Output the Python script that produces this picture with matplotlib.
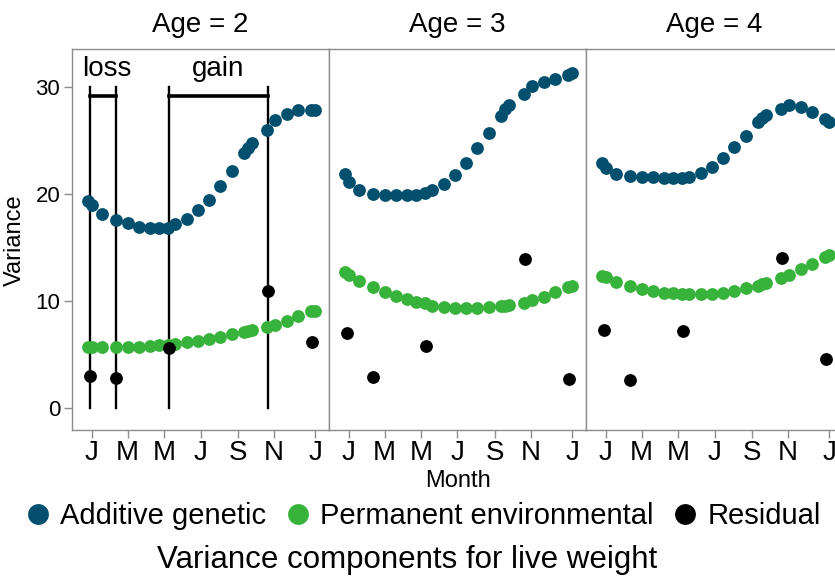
import matplotlib
matplotlib.use("Agg")
import matplotlib.pyplot as plt
from matplotlib.lines import Line2D

plt.rcParams['font.family'] = ['Liberation Sans', 'DejaVu Sans']

# sampling days (J tick = day 0), shared by all three ages
days = [-6, 1, 18, 40, 60, 79, 97, 112, 128, 140, 159, 178,
        197, 215, 235, 254, 261, 269, 294, 306, 326, 345, 367, 373]
res_days = [-3, 40, 130, 295, 368]

ages = ["Age = 2", "Age = 3", "Age = 4"]

additive = [
    [19.4, 19.0, 18.2, 17.6, 17.3, 17.0, 16.9, 16.9, 16.9, 17.2, 17.7, 18.5,
     19.5, 20.8, 22.2, 23.9, 24.3, 24.8, 26.0, 27.0, 27.5, 27.9, 27.9, 27.9],
    [21.9, 21.2, 20.4, 20.0, 19.9, 19.9, 19.9, 19.95, 20.1, 20.4, 20.95, 21.8,
     22.9, 24.3, 25.75, 27.3, 27.95, 28.4, 29.4, 30.15, 30.55, 30.8, 31.2, 31.4],
    [22.9, 22.5, 21.9, 21.76, 21.67, 21.67, 21.57, 21.5, 21.57, 21.67, 21.98, 22.6,
     23.44, 24.4, 25.47, 26.8, 27.18, 27.44, 28.0, 28.37, 28.21, 27.69, 27.03, 26.81],
]
permanent = [
    [5.77, 5.77, 5.77, 5.71, 5.77, 5.77, 5.83, 5.92, 5.92, 6.02, 6.17, 6.33,
     6.48, 6.70, 6.92, 7.11, 7.20, 7.33, 7.57, 7.79, 8.20, 8.66, 9.10, 9.13],
    [12.72, 12.47, 11.94, 11.38, 10.91, 10.5, 10.2, 9.97, 9.82, 9.6, 9.5, 9.41,
     9.35, 9.41, 9.44, 9.57, 9.6, 9.66, 9.88, 10.13, 10.44, 10.85, 11.32, 11.47],
    [12.4, 12.25, 11.84, 11.47, 11.16, 10.97, 10.81, 10.76, 10.69, 10.66, 10.66, 10.69,
     10.81, 11.0, 11.22, 11.47, 11.6, 11.75, 12.16, 12.47, 13.0, 13.5, 14.12, 14.34],
]
residual = [
    [3.0, 2.8, 5.6, 11.0, 6.2],
    [7.0, 2.96, 5.83, 14.0, 2.74],
    [7.33, 2.65, 7.23, 14.03, 4.61],
]

tick_days = [0, 60, 121, 182, 244, 305, 374]
tick_labels = ["J", "M", "M", "J", "S", "N", "J"]

blue = "#02506e"
green = "#37b33b"
gray = "#8c8c8c"

W, H = 835, 578
fig = plt.figure(figsize=(W / 100, H / 100), dpi=100)

lefts = [72, 329, 586]
pw = 257
top_px, bot_px = 49, 430
axes = []
for i, lx in enumerate(lefts):
    ax = fig.add_axes([lx / W, 1 - bot_px / H, pw / W, (bot_px - top_px) / H])
    axes.append(ax)
    ax.scatter(days, additive[i], s=85, color=blue, linewidths=0, zorder=3)
    ax.scatter(days, permanent[i], s=85, color=green, linewidths=0, zorder=3)
    ax.scatter(res_days, residual[i], s=85, color="black", linewidths=0, zorder=4)
    ax.set_xlim(-33, 397)
    ax.set_ylim(-2.03, 33.6)
    ax.set_xticks(tick_days)
    ax.set_xticklabels(tick_labels)
    for sp in ax.spines.values():
        sp.set_color(gray)
        sp.set_linewidth(1.0)
    ax.tick_params(axis='x', length=5.5, width=1.0, color=gray, pad=2,
                   labelsize=20)
    if i == 0:
        ax.set_yticks([0, 10, 20, 30])
        ax.tick_params(axis='y', length=5.5, width=1.0, color=gray, pad=3,
                       labelsize=16)
    else:
        ax.set_yticks([])
    ax.text(0.5, 1.045, ages[i], transform=ax.transAxes, ha='center',
            va='baseline', fontsize=20)

# loss / gain brackets on the first panel
ax = axes[0]
for d in res_days[:4]:
    ax.plot([d, d], [0, 30], color="black", lw=1.7, zorder=2)
ax.plot([res_days[0], res_days[1]], [29.2, 29.2], color="black", lw=2.6, zorder=2)
ax.plot([res_days[2], res_days[3]], [29.2, 29.2], color="black", lw=2.6, zorder=2)
ax.text(26, 31.1, "loss", ha='center', va='baseline', fontsize=20)
ax.text(211, 31.1, "gain", ha='center', va='baseline', fontsize=20)

fig.text(15 / W, 1 - 240 / H, "Variance", rotation=90, ha='center',
         va='center', fontsize=17)
fig.text(458 / W, 1 - 481 / H, "Month", ha='center', va='center', fontsize=17)

handles = [
    Line2D([], [], marker='o', ls='', color=blue, markersize=15, markeredgewidth=0),
    Line2D([], [], marker='o', ls='', color=green, markersize=15, markeredgewidth=0),
    Line2D([], [], marker='o', ls='', color="black", markersize=15, markeredgewidth=0),
]
fig.legend(handles, ["Additive genetic", "Permanent environmental", "Residual"],
           loc='center', bbox_to_anchor=(0.508, 1 - 516 / H), ncol=3,
           frameon=False, fontsize=21, handlelength=0.7, handletextpad=0.4,
           columnspacing=0.75, borderaxespad=0, borderpad=0)

fig.text(407 / W, 1 - 560 / H, "Variance components for live weight",
         ha='center', va='center', fontsize=22.5)

fig.savefig("out.png", dpi=100)
